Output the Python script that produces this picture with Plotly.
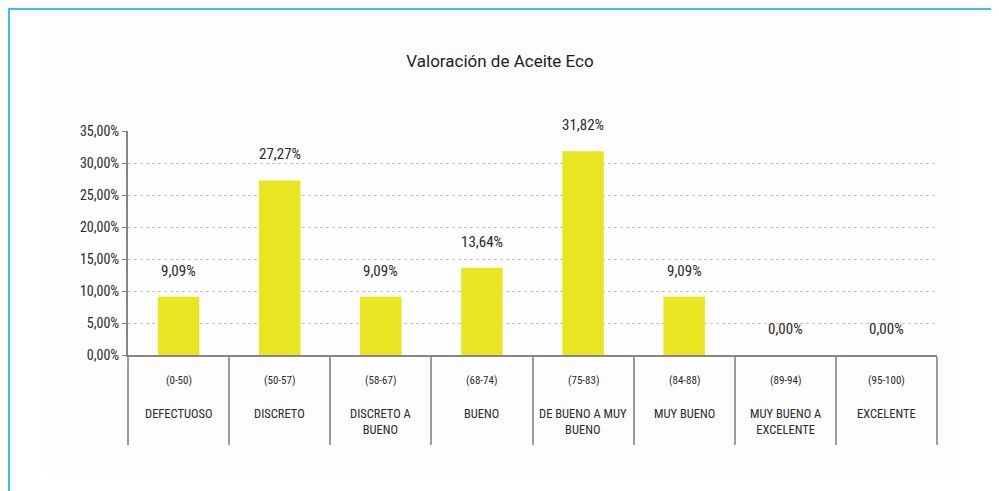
import plotly.graph_objects as go

title_text = "Valoración de Aceite Eco"
ranges = ["(0-50)", "(50-57)", "(58-67)", "(68-74)", "(75-83)", "(84-88)", "(89-94)", "(95-100)"]
names = ["DEFECTUOSO", "DISCRETO", "DISCRETO A<br>BUENO", "BUENO", "DE BUENO A MUY<br>BUENO",
         "MUY BUENO", "MUY BUENO A<br>EXCELENTE", "EXCELENTE"]
values = [0.0909, 0.2727, 0.0909, 0.1364, 0.3182, 0.0909, 0.0, 0.0]
y_ticks = [0, 0.05, 0.10, 0.15, 0.20, 0.25, 0.30, 0.35]

cats = [f"{n}|{r}" for n, r in zip(names, ranges)]
FONT = "Liberation Sans Narrow, Arial Narrow, Roboto Condensed, Liberation Sans, sans-serif"

fig = go.Figure()
fig.add_trace(go.Bar(x=cats, y=values, marker=dict(color="#E8E622", line=dict(width=0)),
                     hoverinfo="skip"))

# the page body adds an 8px offset; figure sized to fit the 999x491 window
OFF = 8
W, H = 999 - OFF, 491 - OFF
L, R, T, B = 120, 62, 123, 136
pw, ph = W - L - R, H - T - B

def px_x(x):
    return (x - OFF - L) / pw

def px_y(y):
    return (H - B - (y - OFF)) / ph

ann = []
for c, v in zip(cats, values):
    ann.append(dict(x=c, y=v, xref="x", yref="y", text=f"{v*100:.2f}%".replace(".", ","),
                    showarrow=False, yanchor="bottom", yshift=15,
                    font=dict(family=FONT, size=15, color="#2a2a2a")))
for c, r, n in zip(cats, ranges, names):
    ann.append(dict(x=c, y=px_y(380), xref="x", yref="paper", text=r, showarrow=False,
                    yanchor="middle", font=dict(family=FONT, size=11, color="#2a2a2a")))
    ann.append(dict(x=c, y=px_y(404), xref="x", yref="paper", text=n, showarrow=False,
                    yanchor="top", align="center",
                    font=dict(family=FONT, size=12.5, color="#2a2a2a")))

shapes = [
    dict(type="rect", xref="paper", yref="paper", x0=px_x(47), x1=px_x(960), y0=px_y(473), y1=px_y(18),
         fillcolor="#fdfdfd", line=dict(width=0), layer="below"),
    dict(type="line", xref="paper", yref="paper", x0=px_x(8), x1=px_x(1000), y0=px_y(9), y1=px_y(9),
         line=dict(color="#3DBFE8", width=2)),
    dict(type="line", xref="paper", yref="paper", x0=px_x(9), x1=px_x(9), y0=px_y(8), y1=px_y(492),
         line=dict(color="#3DBFE8", width=2)),
]

fig.update_layout(
    width=W, height=H,
    margin=dict(l=L, r=R, t=T, b=B),
    paper_bgcolor="white", plot_bgcolor="white",
    separators=",.",
    showlegend=False,
    bargap=0.59,
    title=dict(text=title_text, x=px_x(500), xref="paper", xanchor="center",
               y=1 - (61 - OFF) / H, yanchor="middle", yref="container",
               font=dict(family="Roboto, sans-serif", size=17, color="#1e1e1e")),
    annotations=ann,
    shapes=shapes,
)
fig.update_xaxes(type="category", showticklabels=False, ticks="outside", tickson="boundaries",
                 ticklen=88, tickwidth=2, tickcolor="#a09a9a", showline=True, linecolor="#8a8585",
                 linewidth=2, showgrid=False, zeroline=False)
fig.update_yaxes(range=[0, 0.35], tickvals=y_ticks, tickformat=".2%", showgrid=True,
                 gridcolor="#c9c2c2", griddash="3px,3px", gridwidth=1,
                 showline=True, linecolor="#8a8585", linewidth=2, ticks="outside", ticklen=4,
                 tickcolor="#8a8585", zeroline=False,
                 tickfont=dict(family=FONT, size=14, color="#2a2a2a"))

fig.write_html("out.html")
